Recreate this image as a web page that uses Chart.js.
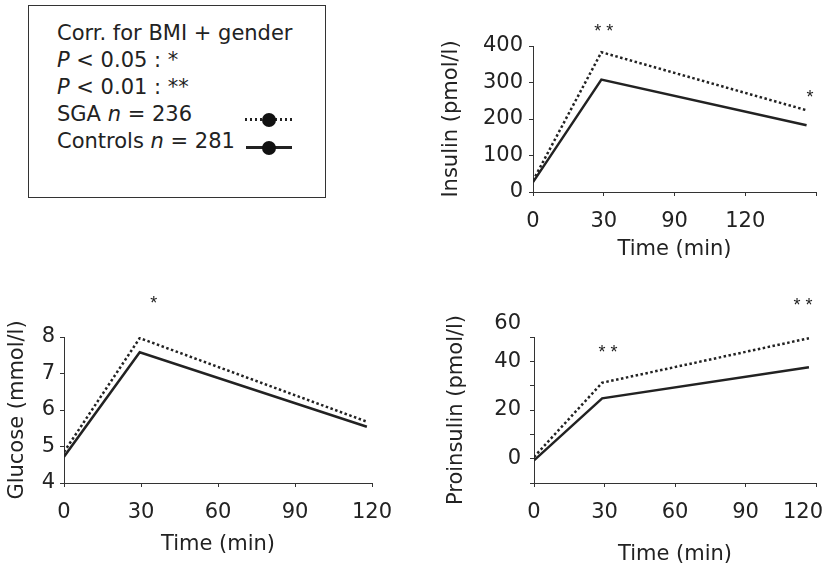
<!DOCTYPE html>
<html>
<head>
  <meta charset="UTF-8">
  <title>OGTT - SGA vs controles</title>
  <script src="https://cdn.jsdelivr.net/npm/chart.js"></script>
  <style>
    body { margin: 0; width: 829px; height: 569px; overflow: hidden; background: #fff; position: relative;
           font-family: "DejaVu Sans", sans-serif; color: #222; }
    canvas { position: absolute; }
    #legend { position: absolute; left: 28px; top: 5px; width: 296px; height: 191px; border: 1px solid #333;
              font-size: 21px; line-height: 27px; padding: 0; }
    #legend .rows { position: absolute; left: 28px; top: 14px; white-space: nowrap; }
    .mk { position: absolute; height: 3px; }
    .mk.dot { background: repeating-linear-gradient(90deg, #222 0 2.5px, transparent 2.5px 5px); }
    .mk.solid { background: #222; }
    .mk span { position: absolute; left: 50%; top: 50%; width: 14px; height: 14px; margin: -7px 0 0 -7px;
               border-radius: 50%; background: #111; }
  </style>
</head>
<body>

  <div id="legend">
    <div class="rows">
      <div>Corr. for BMI + gender</div>
      <div><i>P</i> &lt; 0.05 : *</div>
      <div><i>P</i> &lt; 0.01 : **</div>
      <div>SGA <i>n</i> = 236</div>
      <div>Controls <i>n</i> = 281</div>
    </div>
    <div class="mk dot" style="left:216px; top:112px; width:47px;"><span></span></div>
    <div class="mk solid" style="left:217px; top:140px; width:46px;"><span></span></div>
  </div>

  <canvas id="insulin" width="409" height="270" style="left:420px; top:0px;"></canvas>
  <canvas id="glucose" width="410" height="289" style="left:0px; top:280px;"></canvas>
  <canvas id="proinsulin" width="420" height="289" style="left:420px; top:280px;"></canvas>

  <script>
    // Insulina (pmol/l)
    const insulinTime = [0, 29, 116];
    const insulinSGA = [31, 383, 224];
    const insulinCtrl = [27, 308, 183];
    const insulinXLabels = ['0', '30', '90', '120', ''];
    const insulinSig = [{ t: 30, v: 452, text: '* *' }, { t: 117.5, v: 272, text: '*' }];

    // Glucosa (mmol/l)
    const glucoseTime = [0, 29.5, 118];
    const glucoseSGA = [4.85, 7.97, 5.68];
    const glucoseCtrl = [4.72, 7.58, 5.54];
    const glucoseXLabels = ['0', '30', '60', '90', '120'];
    const glucoseSig = [{ t: 35, v: 9.03, text: '*' }];

    // Proinsulina (pmol/l)
    const proTime = [0, 29, 117];
    const proSGA = [0.7, 31.2, 49.5];
    const proCtrl = [-0.7, 24.8, 37.6];
    const proXLabels = ['0', '30', '60', '90', '120'];
    const proYLabels = [0, 20, 40, 60];
    const proSig = [{ t: 31.5, v: 45.6, text: '* *' }, { t: 114.5, v: 64.6, text: '* *' }];

    const FONT = '"DejaVu Sans", sans-serif';
    const STAR_FONT = '18px "Liberation Sans", Arial, sans-serif';
    const X_PAD = 13;
    Chart.defaults.font.family = FONT;
    Chart.defaults.font.size = 21;
    Chart.defaults.color = '#222';

    const annotate = {
      id: 'annotate',
      afterDraw(chart, args, opts) {
        const { ctx, scales: { x, y } } = chart;
        ctx.save();
        ctx.fillStyle = '#222';
        ctx.textAlign = 'center';
        ctx.textBaseline = 'alphabetic';
        ctx.font = STAR_FONT;
        (opts.marks || []).forEach(m => {
          ctx.fillText(m.text, x.getPixelForValue(m.t), y.getPixelForValue(m.v) + 10);
        });
        ctx.font = '21px ' + FONT;
        ctx.textBaseline = 'middle';
        // etiquetas del eje y por encima del máximo (el "60" de proinsulina)
        if (opts.outside) {
          ctx.textAlign = 'right';
          const lx = chart.chartArea.left - 4 - opts.yPad;
          opts.outside.filter(v => v > y.max).forEach(v => {
            ctx.fillText(String(v), lx, y.getPixelForValue(v) + 11);
          });
        }
        // última etiqueta del eje x, recortada al borde visible
        if (opts.edgeLabel) {
          const w = ctx.measureText(opts.edgeLabel).width;
          const lx = Math.min(x.getPixelForValue(x.max) + w / 2, opts.edgeRight);
          ctx.textAlign = 'right';
          ctx.fillText(opts.edgeLabel, lx, x.top + 4 + X_PAD + 12.6);
        }
        ctx.restore();
      }
    };

    function makePanel(id, p) {
      const toPts = arr => arr.map((v, i) => ({ x: p.time[i], y: v }));
      const last = p.xLabels.length - 1;
      return new Chart(document.getElementById(id), {
        type: 'line',
        data: {
          datasets: [
            { label: 'SGA', data: toPts(p.sga), borderColor: '#222', borderWidth: 2.5,
              borderDash: [2.5, 2.5], pointRadius: 0, tension: 0 },
            { label: 'Controls', data: toPts(p.ctrl), borderColor: '#222', borderWidth: 2.5,
              pointRadius: 0, tension: 0 }
          ]
        },
        options: {
          responsive: false,
          animation: false,
          devicePixelRatio: 1,
          layout: { padding: p.pad },
          plugins: {
            legend: { display: false },
            tooltip: { enabled: false },
            annotate: {
              marks: p.sig, outside: p.outside, yPad: p.yPad,
              edgeLabel: p.edgeRight ? p.xLabels[last] : null, edgeRight: p.edgeRight
            }
          },
          scales: {
            x: {
              type: 'linear', min: 0, max: 120,
              afterFit: s => { s.height = p.xH; },
              border: { display: true, color: '#333', width: 1 },
              grid: { drawOnChartArea: false, drawTicks: true, tickLength: 4, color: '#333' },
              ticks: { stepSize: 30, autoSkip: false, maxRotation: 0, padding: X_PAD,
                       callback: (v, i) => (p.edgeRight && i === last ? '' : p.xLabels[i]) },
              title: { display: true, text: 'Time (min)', padding: { top: 0, bottom: p.xTitlePad } }
            },
            y: {
              min: p.yMin, max: p.yMax,
              afterFit: s => { s.width = p.yW; },
              border: { display: true, color: '#333', width: 1 },
              grid: { drawOnChartArea: false, drawTicks: true, tickLength: 4, color: '#333' },
              ticks: { stepSize: p.yStep, autoSkip: false, padding: p.yPad,
                       callback: p.yLabel || (v => v) },
              title: { display: true, text: p.yTitle, padding: { top: p.yTitlePad, bottom: 0 } }
            }
          }
        },
        plugins: [annotate]
      });
    }

    makePanel('insulin', {
      time: insulinTime, sga: insulinSGA, ctrl: insulinCtrl, xLabels: insulinXLabels, sig: insulinSig,
      yMin: 0, yMax: 400, yStep: 100, yTitle: 'Insulin (pmol/l)',
      pad: { left: 0, top: 46, right: 6, bottom: 0 }, yW: 113, xH: 78,
      yPad: 6, yTitlePad: 19, xTitlePad: 8
    });

    makePanel('glucose', {
      time: glucoseTime, sga: glucoseSGA, ctrl: glucoseCtrl, xLabels: glucoseXLabels, sig: glucoseSig,
      yMin: 4, yMax: 8, yStep: 1, yTitle: 'Glucose (mmol/l)',
      pad: { left: 0, top: 57, right: 38, bottom: 0 }, yW: 64, xH: 86,
      yPad: 5, yTitlePad: 5, xTitlePad: 12
    });

    makePanel('proinsulin', {
      time: proTime, sga: proSGA, ctrl: proCtrl, xLabels: proXLabels, sig: proSig,
      yMin: -10, yMax: 50, yStep: 10, yTitle: 'Proinsulin (pmol/l)',
      yLabel: v => (proYLabels.includes(v) ? String(v) : ''), outside: proYLabels,
      pad: { left: 0, top: 57, right: 24, bottom: 0 }, yW: 114, xH: 86,
      yPad: 9, yTitlePad: 24, xTitlePad: 2, edgeRight: 403
    });
  </script>
</body>
</html>
